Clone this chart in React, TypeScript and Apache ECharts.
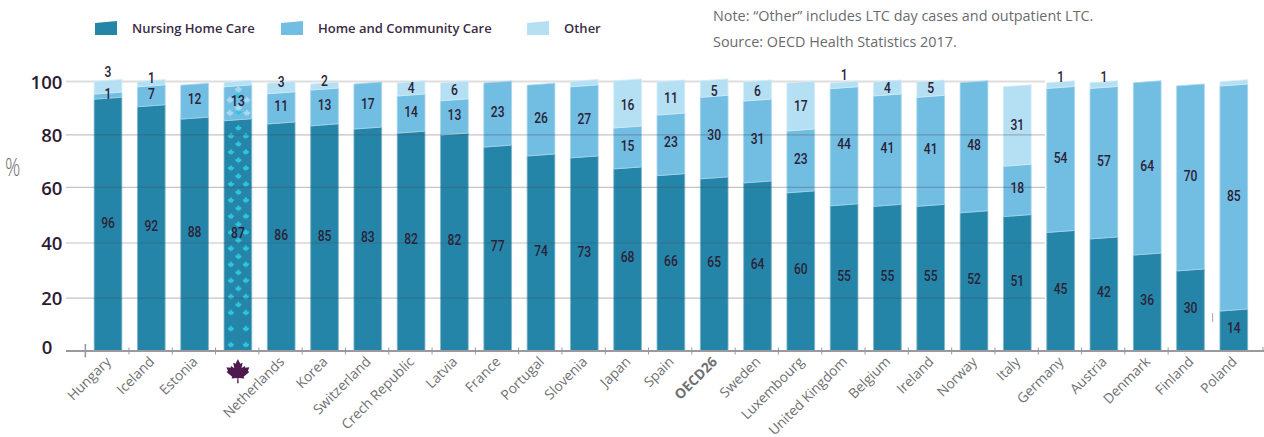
import React, { useEffect, useRef } from "react";
import * as echarts from "echarts";

const categories = ["Hungary","Iceland","Estonia","Canada","Netherlands","Korea","Switzerland","Crech Republic","Latvia","France","Portugal","Slovenia","Japan","Spain","OECD26","Sweden","Luxembourg","United Kingdom","Belgium","Ireland","Norway","Italy","Germany","Austria","Denmark","Finland","Poland"];
// Printed numbers
const nursingLabels = [96,92,88,87,86,85,83,82,82,77,74,73,68,66,65,64,60,55,55,55,52,51,45,42,36,30,14];
const homeLabels = [1,7,12,13,11,13,17,14,13,23,26,27,15,23,30,31,23,44,41,41,48,18,54,57,64,70,85];
const otherLabels = [3,1,null,null,3,2,null,4,6,null,null,null,16,11,5,6,17,1,4,5,null,31,1,1,null,null,null];
// Cumulative heights as drawn in the picture (they differ a little from the printed numbers)
const nursingTops = [93.8,91.0,86.4,85.8,84.6,83.9,82.7,81.2,80.5,76.0,72.7,72.0,67.9,65.4,64.2,62.7,59.0,54.2,54.0,54.0,51.6,50.2,44.3,41.9,35.9,30.0,15.1];
const homeTops = [95.7,98.4,99.0,98.4,95.8,97.2,99.4,95.0,93.2,99.8,99.0,98.4,83.1,87.9,94.5,93.1,82.0,97.7,95.0,94.5,99.9,68.9,97.8,97.8,99.9,98.7,98.7];
const otherTops = [100.4,100.4,null,100.1,99.7,99.4,null,99.9,99.8,null,null,100.4,100.6,100.2,100.6,100.2,99.8,99.8,100.2,100.2,null,98.4,99.9,99.9,null,null,100.3];
const yTickLabels = ["0","20","40","60","80","100"];
const yTickSpots = [1.5,19.7,40.2,60.8,80.4,100];
const gridSpots = [80.2,60.7,40,19.5];

const NAMES = ["Nursing Home Care","Home and Community Care","Other"];
const COLORS = ["#2585a8","#72bde2","#b5dff2"];
const EDGES = ["#7fb6cc","#a5d6ee","#d3ecf7"];
const TEXT = "#2b2238";
const OTHER_NUDGE: Record<string, number> = { Hungary:-15.5, Iceland:-6, Netherlands:-6.5, Korea:-6, "United Kingdom":-10, Germany:-8, Austria:-8, OECD26:2, Japan:1, Spain:0, Sweden:0 };
const MAPLE = "M12 0 L14.5 5 L17 4 L15.8 10 L19 7.5 L19.8 9.5 L24 9 L22.5 13 L24 14 L18 19 L18.7 21 L12.6 20.3 L12.8 26 L11.2 26 L11.4 20.3 L5.3 21 L6 19 L0 14 L1.5 13 L0 9 L4.2 9.5 L5 7.5 L8.2 10 L7 4 L9.5 5 Z";
echarts.graphic.registerShape("maple", echarts.graphic.extendPath(MAPLE, {}) as any);

const RISE = 1; // half of the slant of each top, px

function segmentSeries(k: number, bases: (number | null)[], tops: (number | null)[]) {
  const data: number[][] = [];
  categories.forEach((_, i) => { if (tops[i] != null) data.push([i, bases[i] as number, tops[i] as number]); });
  return {
    type: "custom", name: NAMES[k], z: 2, silent: true, coordinateSystem: "cartesian2d",
    itemStyle: { color: COLORS[k] }, data,
    renderItem: (_p: any, api: any) => {
      const i = api.value(0), b = api.value(1), t = api.value(2);
      const [x, yT] = api.coord([i, t]);
      const yB = api.coord([i, b])[1];
      const w = api.size([1, 0])[0] * 0.32;
      const r = b === 0 ? 0 : RISE;
      return { type: "polygon", shape: { points: [[x - w, yT + RISE], [x + w, yT - RISE], [x + w, yB - r], [x - w, yB + r]] },
        style: { fill: COLORS[k], stroke: EDGES[k], lineWidth: 0.8 } };
    },
  };
}

function App() {
  const ref = useRef<HTMLDivElement>(null);
  useEffect(() => {
    const chart = echarts.init(ref.current!, null, { renderer: "svg" });
    const labelItems: any[] = [];
    categories.forEach((c, i) => {
      labelItems.push([i, nursingTops[i] / 2, nursingLabels[i], -2.5]);
      labelItems.push([i, (nursingTops[i] + homeTops[i]) / 2, homeLabels[i], -2.5]);
      if (otherLabels[i] != null) labelItems.push([i, (homeTops[i] + (otherTops[i] as number)) / 2, otherLabels[i], OTHER_NUDGE[c] ?? -1]);
    });
    const canadaIndex = categories.indexOf("Canada");
    const legendBase = { orient: "horizontal", selectedMode: false, itemWidth: 22, itemHeight: 14, top: 16,
      icon: "path://M0,2 L22,0 L22,14 L0,14 Z",
      textStyle: { fontFamily: "Open Sans", fontWeight: 600, fontSize: 13, color: "#3a2c46", padding: [0, 0, 0, 10] } };
    chart.setOption({
      animation: false,
      textStyle: { fontFamily: "Open Sans" },
      grid: { left: 86.35, right: 8.55, top: 81.5, bottom: 86.3, outerBoundsMode: "none" },
      legend: [
        { ...legendBase, data: [NAMES[0]], left: 90 },
        { ...legendBase, data: [NAMES[1]], left: 276 },
        { ...legendBase, data: [NAMES[2]], left: 522 },
      ],
      xAxis: { type: "category", data: categories,
        axisLine: { show: false }, axisTick: { show: false },
        axisLabel: { interval: 0, rotate: 45, margin: 8, fontFamily: "Open Sans", fontSize: 13.8, color: "#6f7073",
          formatter: (v: string) => v === "Canada" ? "" : v === "OECD26" ? `{b|${v}}` : v,
          rich: { b: { fontFamily: "Open Sans", fontWeight: 700, fontSize: 13.8, color: "#6f7073" } } } },
      yAxis: { type: "value", min: 0, max: 100, splitLine: { show: false }, axisLine: { show: false }, axisTick: { show: false },
        axisLabel: { customValues: yTickSpots, margin: 24, fontFamily: "Open Sans", fontWeight: 600, fontSize: 18.5, color: "#2c1a33",
          formatter: (v: number) => { const idx = yTickSpots.indexOf(v); return idx === 0 ? `{z|${yTickLabels[0]}}` : yTickLabels[idx]; },
          rich: { z: { fontFamily: "Open Sans", fontWeight: 600, fontSize: 18.5, color: "#2c1a33", padding: [0, 10, 0, 0] } } } },
      graphic: [
        { type: "text", x: 713, y: 8, style: { text: "Note: \u201COther\u201D includes LTC day cases and outpatient LTC.", font: "14.4px 'Open Sans'", fill: "#6b6b6e" } },
        { type: "text", x: 713, y: 34, style: { text: "Source: OECD Health Statistics 2017.", font: "14.4px 'Open Sans'", fill: "#6b6b6e" } },
        { type: "text", x: 5, y: 154, scaleX: 0.76, style: { text: "%", font: "300 25px 'Open Sans'", fill: "#6d6e71" } },
        { type: "maple", x: 226.5, y: 359, scaleX: 0.95, scaleY: 0.93, style: { fill: "#4e1a4e" } },
      ],
      series: [
        // light 100 line behind the bars
        { type: "custom", z: 1, silent: true, data: [[0]], renderItem: (_p: any, api: any) => {
          const y = api.coord([0, 100])[1];
          return { type: "line", shape: { x1: 66, y1: y, x2: 1045, y2: y }, style: { stroke: "#dedede", lineWidth: 2 } };
        } },
        segmentSeries(0, categories.map(() => 0), nursingTops),
        segmentSeries(1, nursingTops, homeTops),
        segmentSeries(2, homeTops, otherTops),
        // maple leaf pattern on the Canadian bar
        { type: "custom", z: 3, silent: true, data: [[canadaIndex]], renderItem: (_p: any, api: any) => {
          const i = api.value(0);
          const cx = api.coord([i, 0])[0] + 0.5, y0 = 351;
          const leaf = (dx: number, y: number, s: number, fill: string) => ({ type: "maple", x: cx + dx - 12 * s, y: y - 13 * s, scaleX: s, scaleY: s, style: { fill } });
          const children: any[] = [];
          for (let k = 0; k < 14; k++) children.push(leaf(0, y0 - 46.3 - 16.06 * k, 0.27, "#2cc6e0"));
          for (let k = 0; k < 14; k++) { const y = y0 - 6.2 - 16.06 * k; children.push(leaf(-7.5, y, 0.27, "#2cc6e0"), leaf(7.5, y, 0.27, "#2cc6e0")); }
          [[0, 89.5], [0, 108], [-8.5, 100], [8.5, 100], [-8.5, 113], [8.5, 113]].forEach(([dx, y]) => children.push(leaf(dx, y, 0.3, "#a6d9ef")));
          return { type: "group", children };
        } },
        // grid, axis line and ticks drawn over the bars
        { type: "custom", z: 4, silent: true, data: [[0]], renderItem: (_p: any, api: any) => {
          const children: any[] = [];
          gridSpots.forEach((v) => { const y = api.coord([0, v])[1];
            children.push({ type: "line", shape: { x1: 66, y1: y, x2: 1045, y2: y }, style: { stroke: "rgba(70,70,80,0.32)", lineWidth: 1.2 } }); });
          const yA = api.coord([0, 0])[1] + 0.3, band = api.size([1, 0])[0], x0 = api.coord([0, 0])[0] - band / 2;
          children.push({ type: "line", shape: { x1: 66, y1: yA, x2: 1264, y2: yA }, style: { stroke: "#9a9a9e", lineWidth: 2 } });
          children.push({ type: "line", shape: { x1: x0 - 1, y1: yA - 7, x2: x0 - 1, y2: yA + 6.5 }, style: { stroke: "#9a9a9e", lineWidth: 1.6 } });
          for (let k = 1; k <= 25; k++) { const x = x0 + band * k - 0.7;
            children.push({ type: "line", shape: { x1: x, y1: yA - 3.5, x2: x, y2: yA + 3.5 }, style: { stroke: "#9a9a9e", lineWidth: 1 } }); }
          const xs = x0 + band * 26 + 0.5;
          children.push({ type: "line", shape: { x1: xs, y1: 313, x2: xs, y2: 322 }, style: { stroke: "#a9a9ad", lineWidth: 1 } });
          children.push({ type: "line", shape: { x1: 1263, y1: yA - 4, x2: 1263, y2: yA }, style: { stroke: "#9a9a9e", lineWidth: 1 } });
          return { type: "group", children };
        } },
        // printed numbers
        { type: "custom", z: 5, silent: true, data: labelItems, renderItem: (_p: any, api: any) => {
          const [x, y] = api.coord([api.value(0), api.value(1)]);
          return { type: "text", x, y: y + api.value(3), scaleX: 0.78, style: { text: String(api.value(2)), x: 0, y: 0, align: "center", verticalAlign: "middle",
            font: "500 15.5px Roboto", fill: TEXT } };
        } },
      ],
    });
    return () => chart.dispose();
  }, []);
  return <div ref={ref} style={{ position: "absolute", left: 0, top: 0, width: 1264, height: 437 }} />;
}

export default App;
